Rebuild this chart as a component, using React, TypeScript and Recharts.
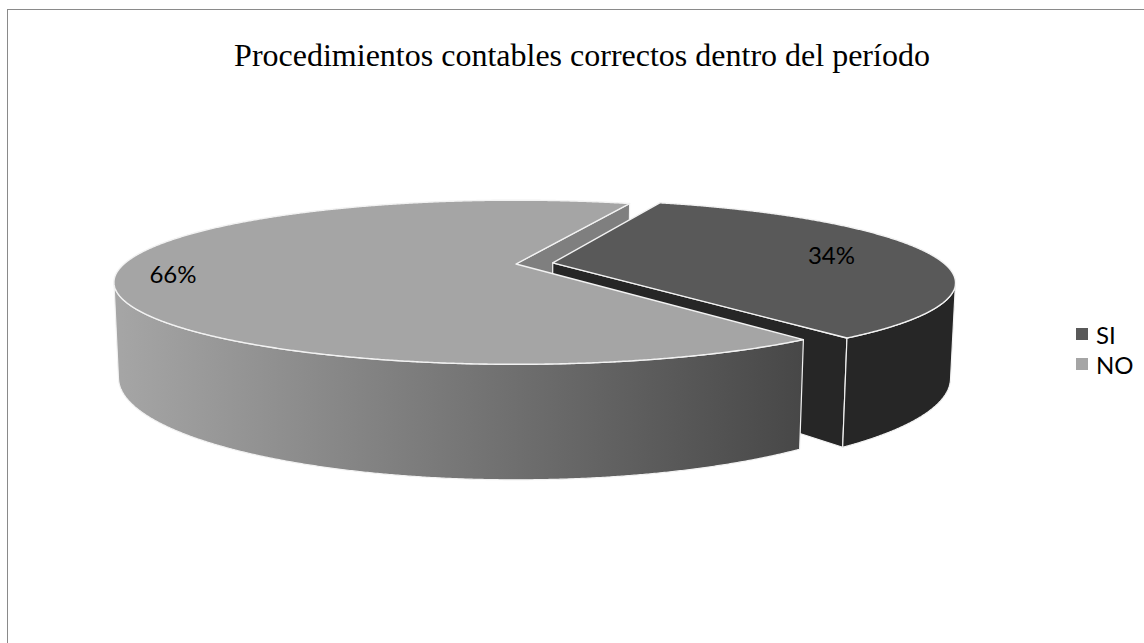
import { PieChart, Pie, Legend } from 'recharts'

const title = 'Procedimientos contables correctos dentro del período'
const categories = ['SI', 'NO']
const shares = [34, 66]

// drawn NO first so that the exploded SI faces sit on top of the NO cut face
const pieData = categories.map((name, i) => ({ name, value: shares[i] })).reverse()

const topColors: Record<string, string> = { SI: '#595959', NO: '#a5a5a5' }
const cutColors: Record<string, string> = { SI: '#262626', NO: '#7f7f7f' }
const wallColors: Record<string, string[]> = { SI: ['#262626', '#262626'], NO: ['#a6a6a6', '#474747'] }
const explode: Record<string, number> = { SI: 0.095, NO: 0 }
const labelRadius: Record<string, number> = { SI: 0.74, NO: 0.86 }

// perspective of the excel 3d pie
const SIN_T = 0.199
const COS_T = 0.98
const DIST = 4.41
const DEPTH = 0.24
const RAD = Math.PI / 180
const EDGE = '#f2f2f2'
const BORDER = '#8a8a8a'

const project = (cx: number, cy: number, r: number, x: number, y: number, z: number) => {
  const q = DIST / (DIST + y * COS_T - z * SIN_T)
  return [cx + r * x * q, cy - r * (z * COS_T + y * SIN_T) * q]
}

const toPath = (pts: number[][]) =>
  pts.map((p, i) => `${i ? 'L' : 'M'}${p[0].toFixed(2)},${p[1].toFixed(2)}`).join(' ') + ' Z'

const sliceGeom = (props: any) => {
  const { cx, cy, outerRadius, startAngle, endAngle } = props
  const name = props.name ?? props.payload?.name
  const mid = ((startAngle + endAngle) / 2) * RAD
  const e = explode[name] ?? 0
  const ox = e * Math.cos(mid)
  const oy = e * Math.sin(mid)
  const P = (x: number, y: number, z: number) => project(cx, cy, outerRadius, ox + x, oy + y, z)
  return { name, ox, oy, P, startAngle, endAngle }
}

const arcAngles = (start: number, end: number) => {
  const n = Math.max(2, Math.ceil(Math.abs(end - start) / 0.25))
  const out: number[] = []
  for (let i = 0; i <= n; i++) out.push(start + ((end - start) * i) / n)
  return out
}

// first pass: the flat cut faces that face the viewer
const renderCuts = (props: any) => {
  const { name, ox, oy, P, startAngle, endAngle } = sliceGeom(props)
  const sg = Math.sign(endAngle - startAngle) || -1
  const faces = [
    { a: startAngle * RAD, n: (a: number) => [sg * Math.sin(a), -sg * Math.cos(a)] },
    { a: endAngle * RAD, n: (a: number) => [-sg * Math.sin(a), sg * Math.cos(a)] },
  ]
  return (
    <g>
      {faces.map((f, i) => {
        const [nx, ny] = f.n(f.a)
        const dot = nx * -ox + ny * (-DIST * COS_T - oy)
        if (dot <= 0) return null
        const c = Math.cos(f.a)
        const s = Math.sin(f.a)
        const pts = [P(0, 0, 0), P(c, s, 0), P(c, s, -DEPTH), P(0, 0, -DEPTH)]
        return <path key={i} d={toPath(pts)} fill={cutColors[name]} stroke={EDGE} strokeWidth={1.2} strokeLinejoin="round" />
      })}
    </g>
  )
}

// second pass: outer wall and top face
const renderTop = (props: any) => {
  const { name, ox, oy, P, startAngle, endAngle } = sliceGeom(props)
  const angles = arcAngles(startAngle, endAngle)
  const visible = angles.filter((d) => {
    const a = d * RAD
    return -1 - ox * Math.cos(a) - oy * Math.sin(a) - DIST * COS_T * Math.sin(a) > 0
  })
  const gid = `wall-${name}`
  const top = [P(0, 0, 0), ...angles.map((d) => P(Math.cos(d * RAD), Math.sin(d * RAD), 0))]
  let wall = null
  if (visible.length > 1) {
    const upper = visible.map((d) => P(Math.cos(d * RAD), Math.sin(d * RAD), 0))
    const lower = visible.map((d) => P(Math.cos(d * RAD), Math.sin(d * RAD), -DEPTH)).reverse()
    wall = (
      <g>
        <defs>
          <linearGradient id={gid} x1="0" y1="0" x2="1" y2="0">
            <stop offset="0%" stopColor={wallColors[name][0]} />
            <stop offset="100%" stopColor={wallColors[name][1]} />
          </linearGradient>
        </defs>
        <path d={toPath([...upper, ...lower])} fill={`url(#${gid})`} stroke={EDGE} strokeWidth={1.2} strokeLinejoin="round" />
      </g>
    )
  }
  return (
    <g>
      {wall}
      <path d={toPath(top)} fill={topColors[name]} stroke={EDGE} strokeWidth={1.4} strokeLinejoin="round" />
    </g>
  )
}

const renderLabel = (props: any) => {
  const { name, P } = sliceGeom(props)
  const m = props.midAngle * RAD
  const k = labelRadius[name] ?? 0.8
  const [x, y] = P(k * Math.cos(m), k * Math.sin(m), 0)
  return (
    <text key={name} x={x} y={y} textAnchor="middle" dominantBaseline="central" fill="#000" fontSize={24} fontFamily="Lato, sans-serif">
      {`${Math.round(props.percent * 100)}%`}
    </text>
  )
}

const renderLegend = () => (
  <div style={{ fontFamily: 'Lato, sans-serif', fontSize: 24, color: '#000' }}>
    {categories.map((c) => (
      <div key={c} style={{ display: 'flex', alignItems: 'center', height: 30 }}>
        <span style={{ width: 12, height: 12, background: topColors[c], marginRight: 8 }} />
        <span>{c}</span>
      </div>
    ))}
  </div>
)

const App = () => {
  return (
    <div style={{ position: 'relative', width: 1136, height: 620 }}>
      {/* chart frame, cut off at the right and bottom like the reference */}
      <div style={{ position: 'fixed', left: 7, top: 9, width: 1137, height: 1, background: BORDER }} />
      <div style={{ position: 'fixed', left: 7, top: 9, width: 1, height: 634, background: BORDER }} />
      <div
        style={{
          position: 'absolute',
          left: 574,
          top: 31,
          transform: 'translateX(-50%)',
          whiteSpace: 'nowrap',
          fontFamily: '"Liberation Serif", serif',
          fontSize: 32,
          lineHeight: '32px',
          color: '#000',
        }}
      >
        {title}
      </div>
      <div style={{ position: 'absolute', left: 0, top: 2 }}>
        <PieChart width={1136} height={618} margin={{ top: 0, right: 0, bottom: 0, left: 0 }}>
          <Pie
            data={pieData}
            dataKey="value"
            nameKey="name"
            cx={508}
            cy={254}
            outerRadius={392}
            startAngle={-52.9}
            endAngle={-412.9}
            shape={renderCuts}
            legendType="none"
            label={false}
            isAnimationActive={false}
          />
          <Pie
            data={pieData}
            dataKey="value"
            nameKey="name"
            cx={508}
            cy={254}
            outerRadius={392}
            startAngle={-52.9}
            endAngle={-412.9}
            shape={renderTop}
            label={renderLabel}
            labelLine={false}
            isAnimationActive={false}
          />
          <Legend content={renderLegend} wrapperStyle={{ position: 'absolute', left: 1068, top: 309, width: 60 }} />
        </PieChart>
      </div>
    </div>
  )
}

export default App
